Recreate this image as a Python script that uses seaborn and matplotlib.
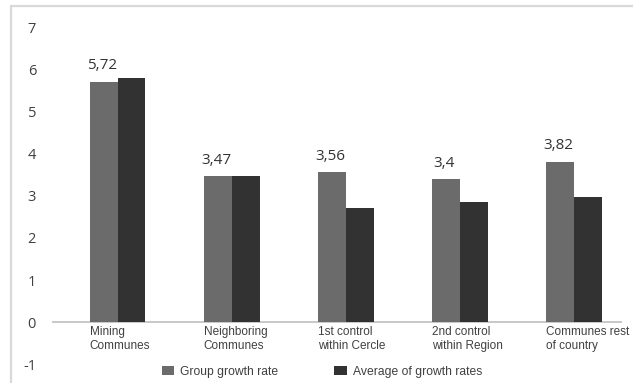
import matplotlib
matplotlib.use("Agg")
import matplotlib.pyplot as plt
import seaborn as sns
import pandas as pd
from matplotlib.lines import Line2D
from matplotlib.patches import Patch

# Data
categories = ["Mining\nCommunes", "Neighboring\nCommunes", "1st control\nwithin Cercle",
              "2nd control\nwithin Region", "Communes rest\nof country"]
series = ["Group growth rate", "Average of growth rates"]
group_rate = [5.72, 3.47, 3.56, 3.40, 3.82]
avg_rate = [5.82, 3.47, 2.72, 2.86, 2.98]
value_labels = ["5,72", "3,47", "3,56", "3,4", "3,82"]
y_ticks = [-1, 0, 1, 2, 3, 4, 5, 6, 7]

GREY = "#6b6b6b"
DARK = "#323232"

df = pd.DataFrame({
    "category": categories * 2,
    "series": [series[0]] * len(categories) + [series[1]] * len(categories),
    "value": group_rate + avg_rate,
})

sns.set_theme(style="white")
plt.rcParams["font.family"] = ["DejaVu Sans"]

W, H = 633, 383
fig = plt.figure(figsize=(W / 100, H / 100), dpi=100)
ax = fig.add_axes([52 / W, 1 - 364 / H, (622 - 52) / W, (364 - 28) / H])

sns.barplot(data=df, x="category", y="value", hue="series", order=categories,
            hue_order=series, palette=[GREY, DARK], width=0.49, saturation=1,
            legend=False, edgecolor="none", linewidth=0, ax=ax)

ax.set_xlim(-0.574, 4.42)
ax.set_ylim(-1, 7)
ax.set_yticks(y_ticks)
ax.set_yticklabels([str(t) for t in y_ticks], family="Open Sans", fontsize=10.5, color="#404040")
ax.tick_params(axis="y", length=0, pad=11.5)
ax.set_xticks([])
ax.set_xlabel("")
ax.set_ylabel("")
for s in ax.spines.values():
    s.set_visible(False)

# baseline
ax.axhline(0, color="#c4c4c4", lw=1.3, zorder=0.5)

# value labels over the first series
for bar, lab in zip(ax.containers[0], value_labels):
    ax.annotate(lab, (bar.get_x() + bar.get_width() / 2, bar.get_height()),
                xytext=(-1, 11.5), textcoords="offset points", ha="center", va="center",
                family="Open Sans", fontsize=11, color="#333333")

# category labels under the baseline, left aligned with the bar pair
for i, cat in enumerate(categories):
    ax.text(i - 0.245, -0.1, cat, ha="left", va="top", family="Liberation Sans",
            fontsize=8.5, color="#404040", linespacing=1.25)

handles = [Patch(facecolor=GREY, edgecolor="none"), Patch(facecolor=DARK, edgecolor="none")]
fig.legend(handles, series, loc="center", bbox_to_anchor=(322 / W, 1 - 371.5 / H), ncol=2,
           frameon=False, prop={"family": "Liberation Sans", "size": 8.7},
           handlelength=1.05, handleheight=0.75, handletextpad=0.5, columnspacing=4.6,
           labelcolor="#404040")

# outer frame (left and top edges)
fig.add_artist(Line2D([10.5 / W, 10.5 / W], [0, 1 - 5.5 / H], transform=fig.transFigure,
                      color="#d9d9d9", lw=1.6))
fig.add_artist(Line2D([10.5 / W, 1], [1 - 5.5 / H, 1 - 5.5 / H], transform=fig.transFigure,
                      color="#d9d9d9", lw=1.6))

fig.savefig("out.png", dpi=100)
